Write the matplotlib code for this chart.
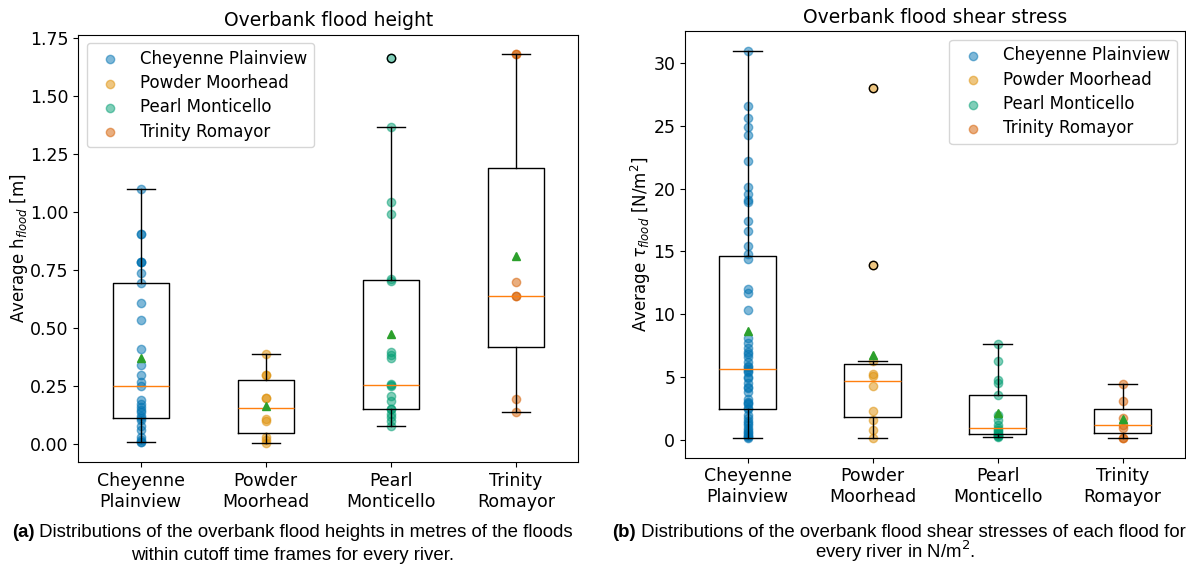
import matplotlib
matplotlib.use("Agg")
from matplotlib import pyplot as plt

rivers = ["Cheyenne Plainview", "Powder Moorhead", "Pearl Monticello", "Trinity Romayor"]
tick_labels = ["Cheyenne\nPlainview", "Powder\nMoorhead", "Pearl\nMonticello", "Trinity\nRomayor"]
colors = ["#0173b2", "#de8f05", "#029e73", "#d55e00"]

# average overbank flood height [m] per flood
height_cheyenne = [0.01, 0.01, 0.02, 0.029, 0.063, 0.08, 0.106, 0.113, 0.12, 0.139, 0.149, 0.16, 0.172, 0.19,
                   0.25, 0.269, 0.297, 0.34, 0.408, 0.534, 0.609, 0.693, 0.736, 0.786, 0.786, 0.786, 0.904,
                   0.904, 1.098]
height_powder = [0.005, 0.02, 0.03, 0.10, 0.11, 0.20, 0.20, 0.30, 0.30, 0.39]
height_pearl = [0.078, 0.10, 0.115, 0.132, 0.15, 0.153, 0.187, 0.208, 0.25, 0.255, 0.259, 0.372, 0.385, 0.398,
                0.705, 0.71, 0.99, 1.042, 1.365, 1.664]
height_trinity = [0.137, 0.193, 0.64, 0.64, 0.70, 1.68, 1.68]

# average overbank flood shear stress [N/m2] per flood
shear_cheyenne = [0.13, 0.21, 0.3, 0.4, 0.53, 0.6, 0.8, 0.93, 1.19, 1.32, 1.5, 1.73, 2.0, 2.44,
                  2.5, 2.8, 2.9, 3.0, 3.2, 3.8, 4.1, 4.2, 4.5, 4.9, 5.0, 5.4, 5.5, 5.65,
                  5.8, 5.9, 6.2, 6.6, 6.8, 7.0, 7.3, 7.7, 8.1, 10.3, 11.7, 12.0, 14.4, 14.8,
                  15.4, 16.6, 17.4, 18.9, 19.1, 19.6, 20.1, 22.2, 24.3, 24.9, 25.6, 26.6, 31.0]
shear_powder = [0.1, 0.8, 1.6, 2.25, 4.3, 5.05, 5.2, 6.3, 13.9, 28.0]
shear_pearl = [0.2, 0.25, 0.3, 0.4, 0.45, 0.55, 0.66, 0.8, 0.93, 1.2, 1.6, 2.0, 3.58, 4.5, 4.77, 6.23, 7.64]
shear_trinity = [0.13, 0.13, 0.93, 1.14, 1.7, 3.1, 4.46]

heights = [height_cheyenne, height_powder, height_pearl, height_trinity]
shears = [shear_cheyenne, shear_powder, shear_pearl, shear_trinity]

fig = plt.figure(figsize=(11.86, 5.66), dpi=100)
ax1 = fig.add_axes([0.066, 0.183, 0.4216, 0.7555])
ax2 = fig.add_axes([0.5776, 0.1913, 0.4216, 0.7534])


def draw_panel(ax, data, title, ylabel, legend_loc):
    # points of every flood on top of the river position
    for i in range(len(data)):
        ax.scatter([i + 1] * len(data[i]), data[i], color=colors[i], alpha=0.5, label=rivers[i])
    ax.boxplot(data, showmeans=True)
    ax.set_xticks(range(1, len(data) + 1))
    ax.set_xticklabels(tick_labels)
    ax.tick_params(labelsize=12.5)
    ax.set_title(title, fontsize=13.5)
    ax.set_ylabel(ylabel, fontsize=12, labelpad=0)
    ax.legend(loc=legend_loc, fontsize=12, labelspacing=0.38)


draw_panel(ax1, heights, "Overbank flood height", "Average h$_{flood}$ [m]", "upper left")
draw_panel(ax2, shears, "Overbank flood shear stress", r"Average $\tau_{flood}$ [N/m$^2$]", "upper right")

# captions under the panels
cap = dict(family="Liberation Sans", fontsize=13.4, va="bottom")
ta = fig.text(0.010, 0.045, "(a)", weight="bold", **cap)
ax1.annotate(" Distributions of the overbank flood heights in metres of the floods", xy=(1, 0), xycoords=ta,
             ha="left", annotation_clip=False, **cap)
fig.text(0.247, 0.004, "within cutoff time frames for every river.", ha="center", **cap)
tb = fig.text(0.516, 0.045, "(b)", weight="bold", **cap)
ax2.annotate(" Distributions of the overbank flood shear stresses of each flood for", xy=(1, 0), xycoords=tb,
             ha="left", annotation_clip=False, **cap)
fig.text(0.755, 0.004, "every river in N/m$^2$.", ha="center", **cap)

fig.savefig("out.png", dpi=100)
